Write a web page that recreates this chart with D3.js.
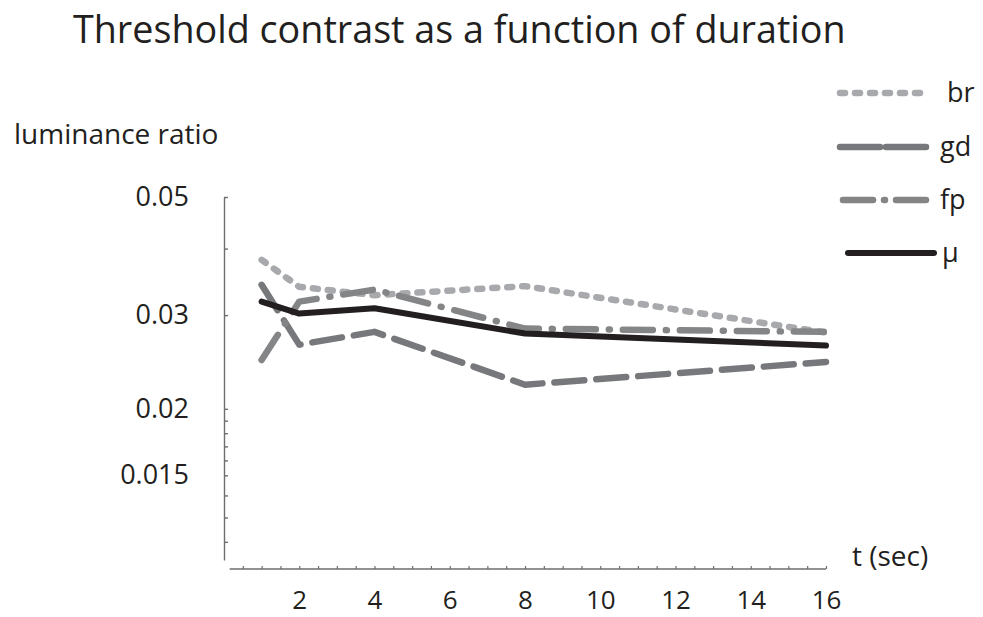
<!DOCTYPE html>
<html>
<head>
<meta charset="utf-8">
<script src="https://cdn.jsdelivr.net/npm/d3@7"></script>
<style>
  body { margin: 0; background: #fff; }
  svg text { font-family: "Open Sans", "Noto Sans", sans-serif; fill: #231f20; }
</style>
</head>
<body>
<svg id="chart" width="983" height="617"></svg>
<script>
// durations (sec)
const durations = [1, 2, 4, 8, 16];
const seriesNames = ['br', 'gd', 'fp', 'μ'];
const brValues = [0.0381, 0.0339, 0.0327, 0.0340, 0.0278];
const gdValues = [0.0342, 0.0264, 0.0279, 0.0222, 0.0245];
const fpValues = [0.0247, 0.0318, 0.0335, 0.0283, 0.0279];
const muValues = [0.0318, 0.0302, 0.0309, 0.0277, 0.0263];

const xTickLabels = [2, 4, 6, 8, 10, 12, 14, 16];
const xMinorTicks = d3.range(0.5, 16.01, 0.5);
const yTickLabels = [0.05, 0.03, 0.02, 0.015];
const yTickMarks = [0.05, 0.04, 0.03, 0.02, 0.019, 0.018, 0.017, 0.016, 0.015, 0.01375, 0.0125, 0.01125];

const svg = d3.select('#chart');

const x = d3.scaleLinear().domain([0, 16]).range([224, 826]);
const y = d3.scaleLog().domain([0.0104, 0.05]).range([560, 197]);

// title
svg.append('text')
  .attr('x', 73).attr('y', 43)
  .attr('font-size', 37.7)
  .text('Threshold contrast as a function of duration');

svg.append('text')
  .attr('x', 14).attr('y', 144)
  .attr('font-size', 28)
  .text('luminance ratio');

svg.append('text')
  .attr('x', 852).attr('y', 566)
  .attr('font-size', 28)
  .text('t (sec)');

// y axis
const yAxis = d3.axisLeft(y)
  .tickValues(yTickMarks)
  .tickSize(-4)
  .tickSizeOuter(0)
  .tickPadding(35)
  .tickFormat(d => yTickLabels.includes(d) ? String(d) : '');

const gy = svg.append('g').attr('transform', 'translate(224,0)').call(yAxis);
gy.selectAll('path, line').attr('stroke', '#6d6e70').attr('stroke-width', 1.4);
gy.selectAll('text').attr('font-size', 27).style('font-family', '"Open Sans", sans-serif').attr('fill', '#231f20');

// x axis
const xAxis = d3.axisBottom(x)
  .tickValues(xMinorTicks)
  .tickSize(-3)
  .tickSizeOuter(0)
  .tickPadding(22)
  .tickFormat(d => xTickLabels.includes(d) ? String(d) : '');

const gx = svg.append('g').attr('transform', 'translate(0,569)').call(xAxis);
gx.select('.domain').remove();
gx.append('line')
  .attr('x1', x(0.15)).attr('x2', x(16))
  .attr('stroke', '#6d6e70').attr('stroke-width', 1.4);
gx.selectAll('.tick line').attr('stroke', '#6d6e70').attr('stroke-width', 1.2);
gx.selectAll('text').attr('font-size', 26).style('font-family', '"Open Sans", sans-serif').attr('fill', '#231f20');

// series styles
const styles = {
  'br': { color: '#a7a9ac', width: 6.5, dash: '5,10' },
  'gd': { color: '#77787b', width: 6.5, dash: '30,12' },
  'fp': { color: '#848587', width: 6.5, dash: '30,13,1,13' },
  'μ': { color: '#231f20', width: 6, dash: null }
};
const allValues = { 'br': brValues, 'gd': gdValues, 'fp': fpValues, 'μ': muValues };

const line = d3.line()
  .x(d => x(d[0]))
  .y(d => y(d[1]));

seriesNames.forEach(name => {
  const pts = durations.map((t, i) => [t, allValues[name][i]]);
  const s = styles[name];
  svg.append('path')
    .datum(pts)
    .attr('d', line)
    .attr('fill', 'none')
    .attr('stroke', s.color)
    .attr('stroke-width', s.width)
    .attr('stroke-linecap', 'round')
    .attr('stroke-linejoin', 'round')
    .attr('stroke-dasharray', s.dash);
});

// legend
const legendY = [93, 147, 200, 253];
const legendX1 = [840, 840, 843, 848];
const legendX2 = [925, 927, 930, 934];
const legendTextX = [947, 940, 940, 942];
seriesNames.forEach((name, i) => {
  const s = styles[name];
  svg.append('line')
    .attr('x1', legendX1[i]).attr('x2', legendX2[i])
    .attr('y1', legendY[i]).attr('y2', legendY[i])
    .attr('stroke', s.color)
    .attr('stroke-width', s.width)
    .attr('stroke-linecap', 'round')
    .attr('stroke-dasharray', name === 'gd' ? '40,6' : (name === 'fp' ? '30,11,1,11' : s.dash));
  svg.append('text')
    .attr('x', legendTextX[i]).attr('y', legendY[i] + 9)
    .attr('font-size', 27)
    .text(name);
});
</script>
</body>
</html>
